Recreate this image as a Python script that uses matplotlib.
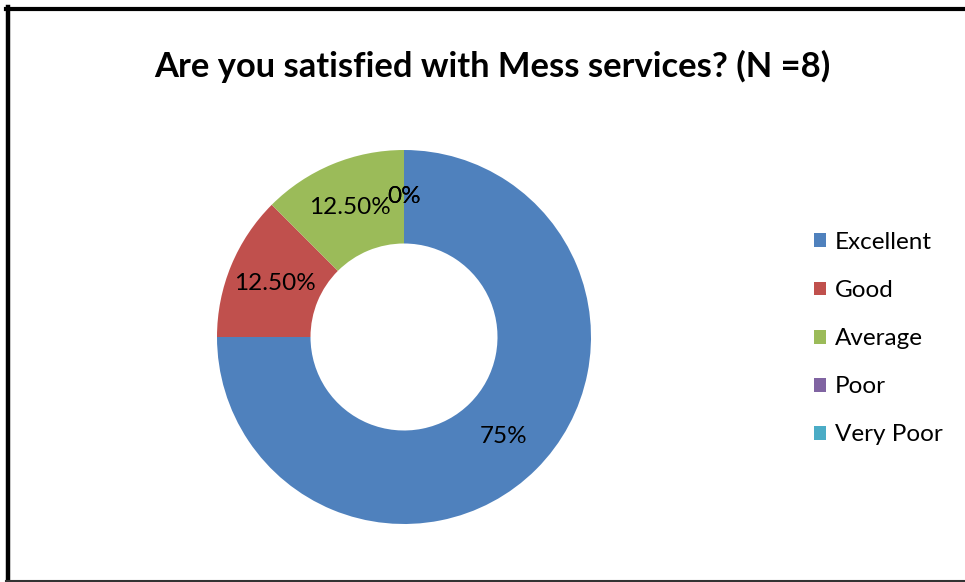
import matplotlib
matplotlib.use("Agg")
import matplotlib.pyplot as plt
from matplotlib.lines import Line2D

categories = ["Excellent", "Good", "Average", "Poor", "Very Poor"]
values = [6, 1, 1, 0, 0]
value_labels = ["75%", "12.50%", "12.50%", "0%", "0%"]
colors = ["#4F81BD", "#C0504D", "#9BBB59", "#8064A2", "#4BACC6"]
title = "Are you satisfied with Mess services? (N =8)"

W, H = 965, 582
fig = plt.figure(figsize=(W / 100, H / 100), dpi=100)
fig.patch.set_facecolor("white")

FONT = ["Lato", "DejaVu Sans"]

cx, cy, R = 404, 337, 187
ax = fig.add_axes([(cx - R) / W, (H - cy - R) / H, 2 * R / W, 2 * R / H])
wedges, texts = ax.pie(values, colors=colors, startangle=90, counterclock=False,
                       radius=1.0, wedgeprops=dict(width=0.5, linewidth=0),
                       labels=value_labels, labeldistance=0.75,
                       textprops=dict(fontsize=17.5, family=FONT, color="black"))
for t in texts:
    t.set_ha("center")
    t.set_va("center")
ax.set_xlim(-1, 1)
ax.set_ylim(-1, 1)
ax.set_aspect("equal")
ax.axis("off")

fig.text(492 / W, 1 - 66 / H, title, ha="center", va="center",
         fontsize=24.8, fontweight="bold", family=FONT)

leg = fig.legend(wedges, categories, loc="upper left",
                 bbox_to_anchor=(814 / W, 1 - 232 / H), frameon=False,
                 prop=dict(family=FONT, size=17.5), handlelength=0.5,
                 handleheight=0.5, handletextpad=0.37, labelspacing=1.115,
                 borderaxespad=0, borderpad=0)

# chart frame
fig.add_artist(Line2D([8 / W, 8 / W], [0, 1 - 7 / H], color="black", lw=3.2,
                      transform=fig.transFigure))
fig.add_artist(Line2D([6 / W, 1], [1 - 9 / H, 1 - 9 / H], color="black", lw=3.0,
                      transform=fig.transFigure))
fig.add_artist(Line2D([6 / W, 1], [1 - 581 / H, 1 - 581 / H], color="#333333", lw=1.5,
                      transform=fig.transFigure))

fig.savefig("out.png", dpi=100, facecolor="white")
